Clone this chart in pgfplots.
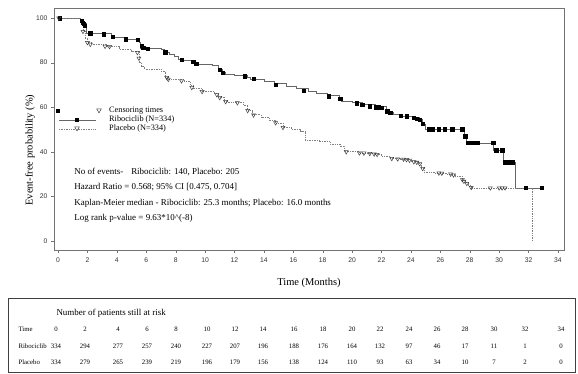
\documentclass[border=0pt]{standalone}
\usepackage{fontspec}
\setmainfont{Liberation Serif}
\newfontfamily\arial{Liberation Sans}
\usepackage{pgfplots}
\usepackage{pgfplotstable}
\pgfplotsset{compat=1.18}

% Kaplan-Meier step curves (time, survival %)
\pgfplotstableread{
t s
0 100
1.5 99.3
1.65 98.5
1.8 97.5
1.9 93.2
3.6 92.4
3.8 91.5
4.5 90.6
5.5 89
5.6 86.5
7.0 85.8
7.25 84.6
7.6 83.6
7.9 82.6
8.2 81.6
8.4 80.8
9.2 80.2
9.4 79.2
10.5 78.6
10.9 77.2
11.2 75.8
11.4 74.9
12.0 74.2
12.9 73.6
13.1 72.6
14.0 71.5
14.7 70.5
15.5 69.5
16.2 68.3
17.0 67.2
17.6 66.2
18.3 65.2
19.1 64.3
19.3 62.6
20.0 62.0
20.7 61.2
21.6 60.2
22.3 59
22.5 57.6
22.8 56.8
23.2 56.0
24.2 55.3
24.6 54.5
24.8 52.2
25.0 50.2
27.6 46
27.8 44
29.6 40.8
30.3 35.4
31.1 23.8
32.9 23.8
}\ribo

\pgfplotstableread{
t s
0 100
1.5 99.3
1.7 94
1.85 91
2.0 89
2.3 88.2
3.3 87.2
4.2 86
5.0 85
5.5 80
5.7 78.2
5.9 77
7.0 76.3
7.3 73.6
7.5 72.5
8.6 71.5
9.0 70
9.2 68.5
9.8 67
10.6 66
10.9 64.6
11.3 62.8
11.5 62.2
12.6 61
12.9 58.5
13.2 56.6
13.8 55.4
14.4 54
14.8 52.8
15.3 51
15.9 50
16.5 49
16.8 45.3
17.8 44.5
18.5 43.5
19.2 42.5
19.5 40.3
20.5 39.5
21.5 38.8
22.0 38
22.6 37
23.3 36.5
24.0 35.6
24.5 34.8
24.7 32.8
24.9 31
25.6 30.5
26.4 29.8
27.0 29
27.5 27.4
27.7 26.2
27.9 24.8
28.1 23.8
32.25 0.4
32.3 0.4
}\plac

% censoring times
\pgfplotstableread{
t s
0.1 100
1.6 98.8
1.7 98
1.75 97.5
1.8 96.5
2.2 93.2
3.1 92.7
3.7 91.5
4.6 90.5
5.4 90.3
5.7 87.5
5.8 86.8
6.1 86.3
7.3 84.7
8.4 81.2
9.2 80.4
9.4 79.5
11.0 76.8
11.2 75.5
12.7 74
13.3 72.8
14.8 70.2
16.7 67.3
18.4 65
19.2 63.7
20.3 61.8
20.7 61.2
21.2 60.5
21.6 60
21.8 60
22.0 59.8
22.4 58.3
22.6 57.5
23.3 56.1
23.7 55.9
24.2 55.2
24.4 54.8
24.6 54.5
24.8 52.5
25.2 50.2
25.5 50.2
25.9 50.2
26.3 50.2
26.8 50.2
27.5 50.2
27.7 47
27.9 44
28.2 44
28.5 44
29.6 44
29.8 40.8
30.2 40.8
30.4 35.4
30.6 35.4
30.9 35.4
31.8 23.8
32.9 23.8
}\riboc

\pgfplotstableread{
t s
0.05 100
1.7 94
2.0 89
2.2 88.2
3.2 87.3
3.5 87.2
5.4 84.5
5.5 82
7.4 73.3
7.5 72.5
8.4 71.8
9.1 68.8
9.8 67
10.8 65.6
11.0 64.3
11.4 62.5
12.2 62
12.9 58.5
13.3 56.5
14.8 53
15.3 50.9
19.6 40
20.5 39.5
20.8 39.4
21.2 39.2
21.5 39
21.7 38.8
22.7 37
23.1 36.8
23.5 36.7
23.7 36.5
23.9 36.2
24.2 35.5
24.4 35.3
24.6 34.6
24.8 32.5
25.9 30.5
26.1 30.4
26.7 30
26.9 29.6
27.5 27.5
27.6 26.8
27.8 25.8
28.1 24
29.4 23.8
30.0 23.8
30.2 23.8
30.4 23.8
}\placc

% number at risk table
\pgfplotstableread{
pos time ribo plac
56 0 334 334
85 2 294 279
118 4 277 265
147 6 257 239
176 8 240 219
207 10 227 196
235 12 207 179
263 14 196 156
294 16 188 138
323 18 176 124
352 20 164 110
380 22 132 93
409 24 97 63
437 26 46 34
465 28 17 10
494 30 11 7
525 32 1 2
561 34 0 0
}\risk

% legend glyphs (image coordinates in bp, y measured downwards)
\newcommand\sqmark[2]{\fill[black] ({#1*1bp-1.8bp},{-#2*1bp-1.8bp}) rectangle ({#1*1bp+1.8bp},{-#2*1bp+1.8bp});}
\newcommand\trimark[2]{\draw[black!75, line width=0.5pt, fill=white] ({#1*1bp-2.3bp},{-#2*1bp+1.6bp}) -- ({#1*1bp+2.3bp},{-#2*1bp+1.6bp}) -- ({#1*1bp},{-#2*1bp-2.4bp}) -- cycle;}

\begin{document}
\begin{tikzpicture}
\path[use as bounding box] (0,0) rectangle (578bp,-374bp);

\begin{axis}[
  at={(54bp,-250bp)}, anchor=south west,
  width=510bp, height=242bp, scale only axis,
  xmin=-0.272, xmax=34.41, ymin=-4.04, ymax=104.5,
  xtick={0,2,...,34}, ytick={0,20,...,100},
  tick align=outside, tick pos=left,
  major tick length=3bp,
  axis line style={black!55},
  tick style={black!55},
  tick label style={font=\arial\fontsize{6.8}{7}\selectfont, text=black!80},
  /pgf/number format/assume math mode=true,
  xticklabel style={yshift=-1bp},
  xlabel={Time (Months)},
  xlabel style={at={(axis description cs:0.5,-0.135)}, anchor=center, font=\fontsize{10.5}{12}\selectfont},
  ylabel={Event-free probability (\%)},
  ylabel style={at={(axis description cs:-0.047,0.413)}, anchor=center, font=\fontsize{10.5}{12}\selectfont},
  clip=false,
]
\addplot[const plot, black!60, line width=0.7pt] table[x=t,y=s]{\ribo};
\addplot[const plot, black!50, densely dotted, line width=0.7pt] table[x=t,y=s]{\plac};
\addplot[only marks, mark=square*, mark size=1.7bp, black] table[x=t,y=s]{\riboc};
\addplot[only marks, mark=triangle, mark size=2.3bp, black!75, mark options={rotate=180, line width=0.5pt}] table[x=t,y=s]{\placc};

\node[anchor=west, font=\fontsize{9}{10}\selectfont] at (axis cs:0.88,30.9) {No of events-\hspace{8bp}Ribociclib: 140, Placebo: 205};
\node[anchor=west, font=\fontsize{9}{10}\selectfont] at (axis cs:0.88,24.2) {Hazard Ratio = 0.568; 95\% CI [0.475, 0.704]};
\node[anchor=west, font=\fontsize{9}{10}\selectfont] at (axis cs:0.88,17.0) {Kaplan-Meier median - Ribociclib: 25.3 months; Placebo: 16.0 months};
\node[anchor=west, font=\fontsize{9}{10}\selectfont] at (axis cs:0.88,10.3) {Log rank p-value = 9.63*10\textasciicircum(-8)};
\end{axis}

% legend
\sqmark{58}{111}
\trimark{99}{110.5}
\draw[black!60, line width=0.7pt] (59bp,-120bp) -- (96bp,-120bp);
\sqmark{77}{120}
\draw[black!50, densely dotted, line width=0.7pt] (59bp,-129bp) -- (96bp,-129bp);
\trimark{77}{128.5}
\node[anchor=west, inner sep=0pt, font=\fontsize{8.3}{9}\selectfont] at (109bp,-111bp) {Censoring times};
\node[anchor=west, inner sep=0pt, font=\fontsize{8.3}{9}\selectfont] at (109bp,-120bp) {Ribociclib (N=334)};
\node[anchor=west, inner sep=0pt, font=\fontsize{8.3}{9}\selectfont] at (109bp,-129bp) {Placebo (N=334)};

% number at risk panel
\draw[black!75, line width=1pt] (8bp,-298bp) rectangle (575bp,-372bp);
\begin{axis}[
  at={(0bp,-374bp)}, anchor=south west,
  width=578bp, height=374bp, scale only axis,
  xmin=0, xmax=578, ymin=-374, ymax=0,
  hide axis, clip=false,
]
\addplot[draw=none, mark=none, nodes near coords, point meta=explicit symbolic,
  nodes near coords style={anchor=center, font=\fontsize{6.8}{7}\selectfont}]
  table[x=pos, y expr=-329, meta=time]{\risk};
\addplot[draw=none, mark=none, nodes near coords, point meta=explicit symbolic,
  nodes near coords style={anchor=center, font=\fontsize{6.8}{7}\selectfont}]
  table[x=pos, y expr=-346, meta=ribo]{\risk};
\addplot[draw=none, mark=none, nodes near coords, point meta=explicit symbolic,
  nodes near coords style={anchor=center, font=\fontsize{6.8}{7}\selectfont}]
  table[x=pos, y expr=-362, meta=plac]{\risk};
\node[anchor=west, font=\fontsize{9}{10}\selectfont] at (axis cs:53,-313) {Number of patients still at risk};
\node[anchor=west, font=\fontsize{6.8}{7}\selectfont] at (axis cs:15,-329) {Time};
\node[anchor=west, font=\fontsize{6.8}{7}\selectfont] at (axis cs:15,-346) {Ribociclib};
\node[anchor=west, font=\fontsize{6.8}{7}\selectfont] at (axis cs:15,-362) {Placebo};
\end{axis}
\end{tikzpicture}
\end{document}
